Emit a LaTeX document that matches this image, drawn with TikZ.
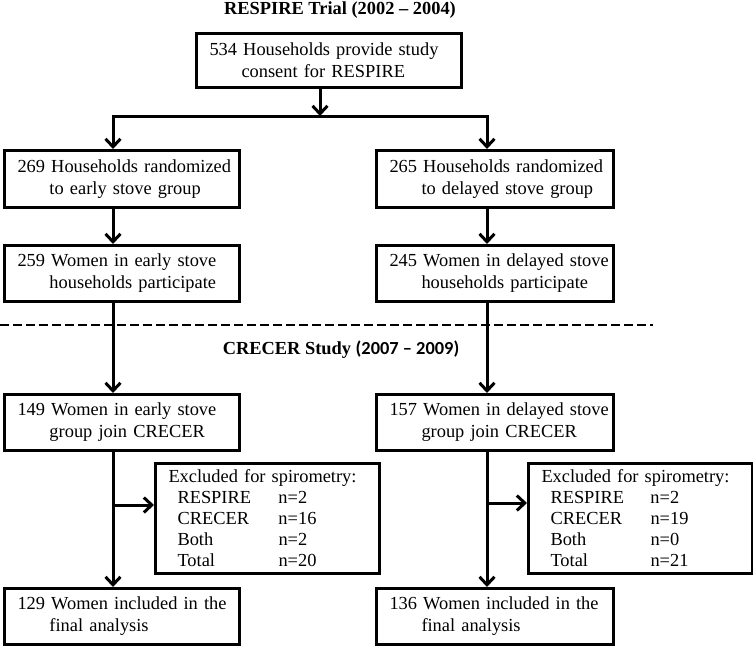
\documentclass[tikz,border=0pt]{standalone}
\usepackage{fontspec}
\setmainfont{Liberation Serif}
\newfontfamily\calibri{Carlito}
\usepackage{tikz}
\usetikzlibrary{arrows.meta}

\begin{document}
\begin{tikzpicture}[
  x=1pt, y=-1pt,
  font=\fontsize{18.4}{22}\selectfont,
  line width=3pt,
  >={Straight Barb[length=8pt,width=15pt]},
  stage/.style={draw, anchor=north west, align=left, inner xsep=3pt, inner ysep=0pt},
  head/.style={font=\fontsize{18.4}{22}\selectfont\bfseries},
  excl/.style={stage, minimum height=110pt, minimum width=224pt, text width=218pt}]

  \useasboundingbox (0,0) rectangle (753,646);

  % RESPIRE trial
  \node[head] (t1) at (340,10) {RESPIRE Trial (2002 – 2004)};
  \node[stage, minimum width=265pt, minimum height=54pt, text width=259pt] (top) at (195,32)
    {\hspace*{10pt}534 Households provide study\\\hspace*{42pt}consent for RESPIRE};

  \node[stage, minimum width=235pt, minimum height=57pt, text width=229pt] (L1) at (3,149)
    {\hspace*{10pt}269 Households randomized\\\hspace*{42pt}to early stove group};
  \node[stage, minimum width=237pt, minimum height=57pt, text width=231pt] (R1) at (375,149)
    {\hspace*{10pt}265 Households randomized\\\hspace*{42pt}to delayed stove group};

  \node[stage, minimum width=235pt, minimum height=56pt, text width=229pt] (L2) at (3,244)
    {\hspace*{10pt}259 Women in early stove\\\hspace*{42pt}households participate};
  \node[stage, minimum width=237pt, minimum height=56pt, text width=231pt] (R2) at (375,244)
    {\hspace*{10pt}245 Women in delayed stove\\\hspace*{42pt}households participate};

  % CRECER study
  \coordinate (dashA) at (0,325);
  \coordinate (dashB) at (653,325);
  \draw[dash pattern=on 9pt off 4pt, line width=2pt] (dashA) -- (dashB);
  \node[head] (t2) at (341,350) {CRECER Study {\calibri\bfseries(2007 – 2009)}};

  \node[stage, minimum width=235pt, minimum height=56pt, text width=229pt] (L3) at (3,393)
    {\hspace*{10pt}149 Women in early stove\\\hspace*{42pt}group join CRECER};
  \node[stage, minimum width=237pt, minimum height=56pt, text width=231pt] (R3) at (375,393)
    {\hspace*{10pt}157 Women in delayed stove\\\hspace*{42pt}group join CRECER};

  \node[excl] (exL) at (154,462)
    {\hspace*{10pt}Excluded for spirometry:\\[-1pt]
     \hspace*{19pt}\makebox[101pt][l]{RESPIRE}n=2\\[-1pt]
     \hspace*{19pt}\makebox[101pt][l]{CRECER}n=16\\[-1pt]
     \hspace*{19pt}\makebox[101pt][l]{Both}n=2\\[-1pt]
     \hspace*{19pt}\makebox[101pt][l]{Total}n=20};
  \node[excl] (exR) at (527,462)
    {\hspace*{10pt}Excluded for spirometry:\\[-1pt]
     \hspace*{19pt}\makebox[100pt][l]{RESPIRE}n=2\\[-1pt]
     \hspace*{19pt}\makebox[100pt][l]{CRECER}n=19\\[-1pt]
     \hspace*{19pt}\makebox[100pt][l]{Both}n=0\\[-1pt]
     \hspace*{19pt}\makebox[100pt][l]{Total}n=21};

  \node[stage, minimum width=235pt, minimum height=56pt, text width=229pt] (L4) at (3,587)
    {\hspace*{10pt}129 Women included in the\\\hspace*{42pt}final analysis};
  \node[stage, minimum width=237pt, minimum height=56pt, text width=231pt] (R4) at (375,587)
    {\hspace*{10pt}136 Women included in the\\\hspace*{42pt}final analysis};

  % connectors
  \coordinate (colL) at (113,0);
  \coordinate (colR) at (487,0);
  \coordinate (split) at (320,116);
  \coordinate (jL) at (113,505);
  \coordinate (jR) at (487,503);

  \draw[->] (top.south -| split) -- (split);
  \draw[->] (split) -| (L1.north -| colL);
  \draw[->] (split) -| (R1.north -| colR);

  \draw[->] (L1.south -| colL) -- (L2.north -| colL);
  \draw[->] (R1.south -| colR) -- (R2.north -| colR);
  \draw[->] (L2.south -| colL) -- (L3.north -| colL);
  \draw[->] (R2.south -| colR) -- (R3.north -| colR);
  \draw[->] (L3.south -| colL) -- (L4.north -| colL);
  \draw[->] (R3.south -| colR) -- (R4.north -| colR);

  \draw[->] (jL) -- (exL.west |- jL);
  \draw[->] (jR) -- (exR.west |- jR);
\end{tikzpicture}
\end{document}
